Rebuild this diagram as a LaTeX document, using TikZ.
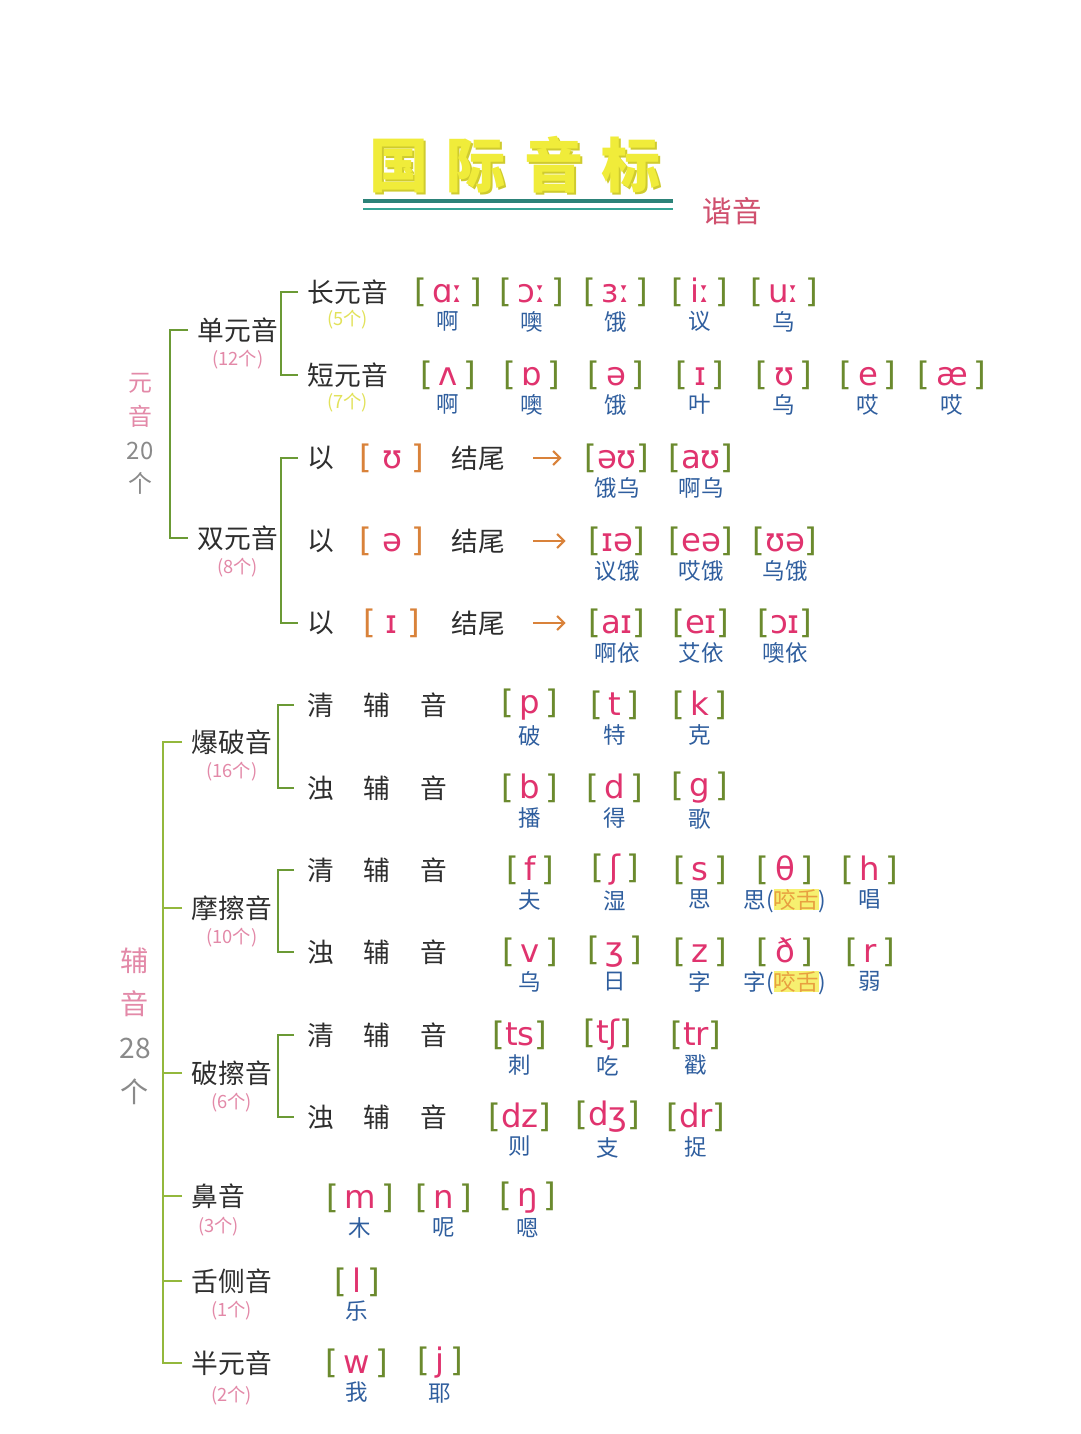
\documentclass[tikz,border=0pt]{standalone}
\usepackage{fontspec}
\setmainfont{DejaVu Sans}
\newfontfamily\cjk{Noto Sans CJK SC}
\newfontfamily\ipa{DejaVu Sans}
\usetikzlibrary{arrows.meta, positioning, calc}

\definecolor{ink}{HTML}{2E2E2E}
\definecolor{brk}{HTML}{6B8A2E}
\definecolor{ipac}{HTML}{E0336E}
\definecolor{zhc}{HTML}{2F5E9E}
\definecolor{cntc}{HTML}{E389A8}
\definecolor{cnty}{HTML}{E2E25A}
\definecolor{treeg}{HTML}{6B9A35}
\definecolor{treey}{HTML}{93B83C}
\definecolor{orng}{HTML}{D9823A}
\definecolor{ttl}{HTML}{F0EC3A}
\definecolor{ttld}{HTML}{CFCB2E}
\definecolor{teal}{HTML}{2C8278}
\definecolor{teal2}{HTML}{35A394}
\definecolor{xyc}{HTML}{D0506E}
\definecolor{greyc}{HTML}{8A8A8A}
\definecolor{hl}{HTML}{F6F070}
\definecolor{ysc}{HTML}{E8A040}

\newcommand\ph[1]{{\color{brk}[}\hspace{4pt}{\color{ipac}#1}\hspace{4pt}{\color{brk}]}}
\newcommand\pht[1]{{\color{brk}[}{\color{ipac}#1}{\color{brk}]}}
\newcommand\phe[1]{{\color{orng}[}\hspace{7pt}{\color{ipac}#1}\hspace{7pt}{\color{orng}]}}
\newcommand\yaoshe{{\setlength\fboxsep{0pt}\colorbox{hl}{\color{ysc}咬舌}}}
\newcommand\gapsp{\hspace{21pt}}

\begin{document}
\begin{tikzpicture}[x=0.025cm, y=-0.025cm, node distance=3pt,
  lab/.style={font=\cjk\fontsize{19}{21}\selectfont, text=ink, inner sep=1pt},
  cnt/.style={font=\cjk\fontsize{13}{15}\selectfont, text=cntc, inner sep=0pt},
  ph/.style={font=\ipa\fontsize{23}{25}\selectfont, inner sep=1pt},
  zh/.style={font=\cjk\fontsize{16}{18}\selectfont, text=zhc, inner sep=0pt},
  side/.style={font=\cjk\fontsize{17}{24}\selectfont, align=center, text=cntc},
  tree/.style={draw=treeg, line width=2pt},
  treec/.style={draw=treey, line width=2pt},
  arr/.style={draw=orng, line width=1.5pt, -{Straight Barb[length=5pt]}, shorten <=19pt, shorten >=15pt}]

\useasboundingbox[fill=white] (0,0) rectangle (1080,1434);

% title
\node[font=\cjk\bfseries\fontsize{42}{44}\selectfont, text=ttld] at (517,167) {国\hspace{13pt}际\hspace{13pt}音\hspace{13pt}标};
\node[font=\cjk\bfseries\fontsize{42}{44}\selectfont, text=ttl] (title) at (515,165) {国\hspace{13pt}际\hspace{13pt}音\hspace{13pt}标};
\draw[teal, line width=3pt] (363,201) -- (673,201);
\draw[teal2, line width=2pt] (363,209) -- (673,209);
\node[font=\cjk\fontsize{21}{23}\selectfont, text=xyc] (xieyin) at (732,211) {谐音};

% vowels
\node[side] (yuan) at (140,434) {元\\音\\{\color{greyc}20}\\{\color{greyc}个}};
\node[lab, anchor=west] (dan) at (196,330) {单元音};
\node[cnt, below=4pt of dan] {(12个)};
\node[lab, anchor=west] (shuang) at (196,538) {双元音};
\node[cnt, below=4pt of shuang] {(8个)};
\draw[tree] ($(dan.west)+(-8,0)$) -- ++(-18,0) |- ($(shuang.west)+(-8,0)$);

\node[lab, anchor=west] (chang) at (306,292) {长元音};
\node[cnt, text=cnty, below=3pt of chang] {(5个)};
\node[lab, anchor=west] (duan) at (306,375) {短元音};
\node[cnt, text=cnty, below=3pt of duan] {(7个)};
\draw[tree] ($(chang.west)+(-8,0)$) -- ++(-17,0) |- ($(duan.west)+(-8,0)$);

\foreach \s/\c [count=\i from 0] in {ɑː/啊, ɔː/噢, ɜː/饿, iː/议, uː/乌} {
  \node[ph] (lv\i) at (448+84*\i,292) {\ph{\s}};
  \node[zh, below=2pt of lv\i] {\c};
}
\foreach \s/\c [count=\i from 0] in {ʌ/啊, ɒ/噢, ə/饿, ɪ/叶, ʊ/乌, e/哎, æ/哎} {
  \node[ph] (sv\i) at (448+84*\i,375) {\ph{\s}};
  \node[zh, below=2pt of sv\i] {\c};
}

% diphthongs
\foreach \e/\y [count=\r] in {ʊ/458, ə/541, ɪ/623} {
  \node[lab, anchor=west] (yi\r) at (306,\y) {以};
  \node[ph] (end\r) at (392,\y) {\phe{\e}};
  \node[lab] (jw\r) at (478,\y) {结尾};
}
\draw[tree] ($(yi1.west)+(-8,0)$) -- ++(-17,0) |- ($(yi3.west)+(-8,0)$);

\foreach \s/\c [count=\i from 0] in {əʊ/饿乌, aʊ/啊乌} {
  \node[ph] (da\i) at (617+84*\i,458) {\pht{\s}};
  \node[zh, below=2pt of da\i] {\c};
}
\foreach \s/\c [count=\i from 0] in {ɪə/议饿, eə/哎饿, ʊə/乌饿} {
  \node[ph] (db\i) at (617+84*\i,541) {\pht{\s}};
  \node[zh, below=2pt of db\i] {\c};
}
\foreach \s/\c [count=\i from 0] in {aɪ/啊依, eɪ/艾依, ɔɪ/噢依} {
  \node[ph] (dc\i) at (617+84*\i,623) {\pht{\s}};
  \node[zh, below=2pt of dc\i] {\c};
}
\draw[arr] (jw1) -- (da0);
\draw[arr] (jw2) -- (db0);
\draw[arr] (jw3) -- (dc0);

% consonants
\node[side, font=\cjk\fontsize{20}{31}\selectfont] (fu) at (135,1026) {辅\\音\\{\color{greyc}28}\\{\color{greyc}个}};
\node[lab, anchor=west] (bao) at (190,742) {爆破音};
\node[cnt, below=4pt of bao] {(16个)};
\node[lab, anchor=west] (mo) at (190,908) {摩擦音};
\node[cnt, below=4pt of mo] {(10个)};
\node[lab, anchor=west] (po) at (190,1073) {破擦音};
\node[cnt, below=4pt of po] {(6个)};
\node[lab, anchor=west] (bi) at (190,1196) {鼻音};
\node[cnt, below=5pt of bi] {(3个)};
\node[lab, anchor=west] (she) at (190,1281) {舌侧音};
\node[cnt, below=4pt of she] {(1个)};
\node[lab, anchor=west] (ban) at (190,1363) {半元音};
\node[cnt, below=6pt of ban] {(2个)};
\draw[treec] ($(bao.west)+(-8,0)$) -- ++(-19,0) |- ($(ban.west)+(-8,0)$);
\foreach \n in {mo, po, bi, she} \draw[treec] ($(\n.west)+(-8,0)$) -- ++(-19,0);

\foreach \t/\y/\k in {705/788/b, 870/952/m, 1035/1117/p} {
  \node[lab, anchor=west] (q\k) at (306,\t) {清\gapsp 辅\gapsp 音};
  \node[lab, anchor=west] (z\k) at (306,\y) {浊\gapsp 辅\gapsp 音};
  \draw[tree] ($(q\k.west)+(-12,0)$) -- ++(-16,0) |- ($(z\k.west)+(-12,0)$);
}

\foreach \s/\c [count=\i from 0] in {p/破, t/特, k/克} {
  \node[ph] (bq\i) at (530+85*\i,705) {\ph{\s}};
  \node[zh, below=2pt of bq\i] {\c};
}
\foreach \s/\c [count=\i from 0] in {b/播, d/得, g/歌} {
  \node[ph] (bz\i) at (530+85*\i,788) {\ph{\s}};
  \node[zh, below=2pt of bz\i] {\c};
}
\foreach \s/\c [count=\i from 0] in {f/夫, ʃ/湿, s/思, θ/思(\yaoshe), h/唱} {
  \node[ph] (mq\i) at (530+85*\i,870) {\ph{\s}};
  \node[zh, below=2pt of mq\i] {\c};
}
\foreach \s/\c [count=\i from 0] in {v/乌, ʒ/日, z/字, ð/字(\yaoshe), r/弱} {
  \node[ph] (mz\i) at (530+85*\i,952) {\ph{\s}};
  \node[zh, below=2pt of mz\i] {\c};
}
\foreach \s/\c [count=\i from 0] in {ts/刺, tʃ/吃, tr/戳} {
  \node[ph] (pq\i) at (520+88*\i,1035) {\pht{\s}};
  \node[zh, below=2pt of pq\i] {\c};
}
\foreach \s/\c [count=\i from 0] in {dz/则, dʒ/支, dr/捉} {
  \node[ph] (pz\i) at (520+88*\i,1117) {\pht{\s}};
  \node[zh, below=2pt of pz\i] {\c};
}
\foreach \s/\c [count=\i from 0] in {m/木, n/呢, ŋ/嗯} {
  \node[ph] (na\i) at (360+84*\i,1198) {\ph{\s}};
  \node[zh, below=2pt of na\i] {\c};
}
\node[ph] (la0) at (357,1282) {\ph{l}};
\node[zh, below=2pt of la0] {乐};
\foreach \s/\c [count=\i from 0] in {w/我, j/耶} {
  \node[ph] (se\i) at (357+83*\i,1363) {\ph{\s}};
  \node[zh, below=2pt of se\i] {\c};
}
\end{tikzpicture}
\end{document}
